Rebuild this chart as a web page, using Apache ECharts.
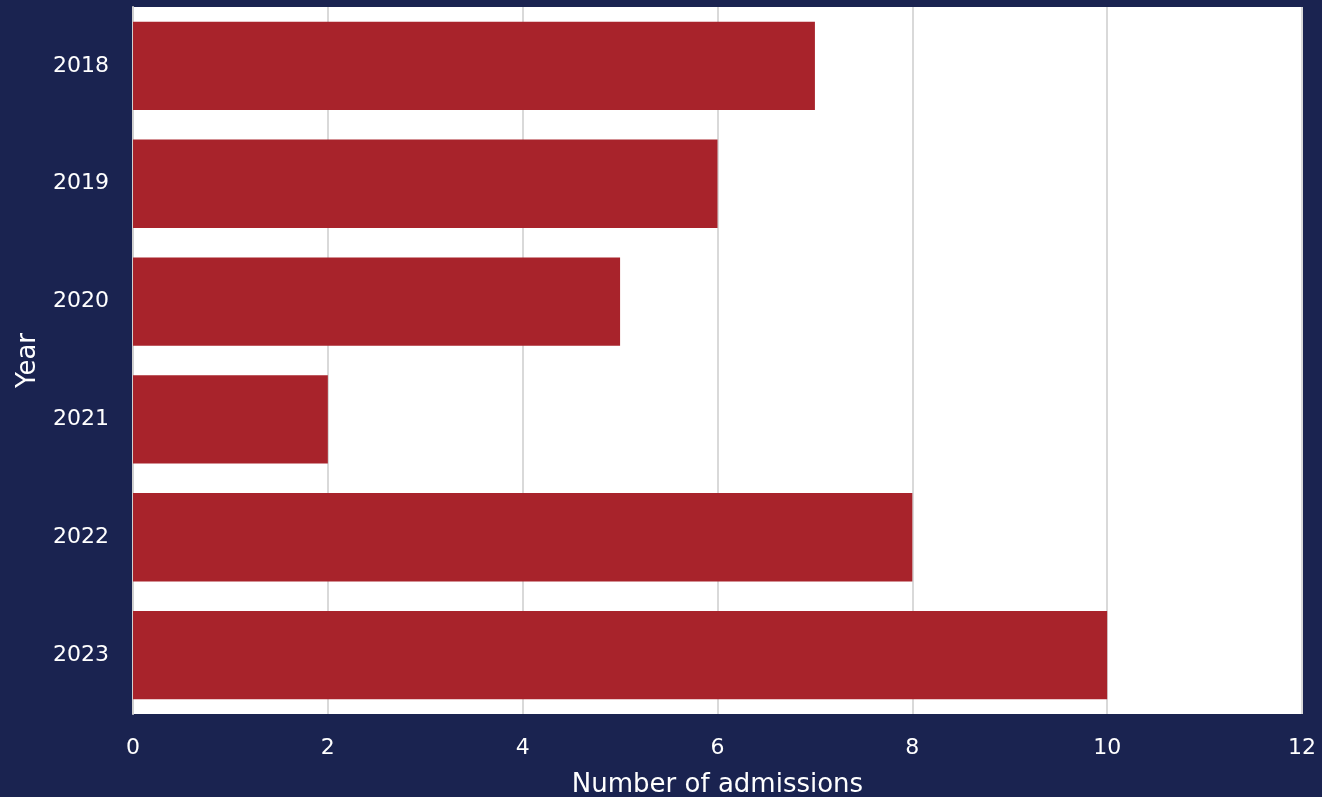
<!DOCTYPE html>
<html><head><meta charset="utf-8">
<script src="https://cdn.jsdelivr.net/npm/echarts@6/dist/echarts.min.js"></script>
<style>html,body{margin:0;padding:0;background:#1a2350;}#c{width:1322px;height:797px;}</style>
</head><body><div id="c"></div>
<script>
const years = ['2018','2019','2020','2021','2022','2023'];
const admissions = [7,6,5,2,8,10];
const xTicks = [0,2,4,6,8,10,12];
const chart = echarts.init(document.getElementById('c'));
const font = 'DejaVu Sans, Verdana, sans-serif';
chart.setOption({
  backgroundColor:'#1a2350',
  animation:false,
  grid:{left:133,right:20,top:7,bottom:83,backgroundColor:'#ffffff',show:true,borderWidth:0,
    containLabel:false,outerBoundsMode:'none'},
  xAxis:{type:'value',min:xTicks[0],max:xTicks[xTicks.length-1],interval:2,
    name:'Number of admissions',nameLocation:'middle',nameGap:58,
    nameTextStyle:{color:'#ffffff',fontSize:26,fontFamily:font},
    axisLabel:{color:'#ffffff',fontSize:22,fontFamily:font,margin:23},
    axisLine:{show:false},axisTick:{show:false},
    splitLine:{show:true,lineStyle:{color:'#d9d9d9',width:2}}},
  yAxis:{type:'category',data:years,inverse:true,
    name:'Year',nameLocation:'middle',nameGap:92,nameRotate:90,
    nameTextStyle:{color:'#ffffff',fontSize:26,fontFamily:font},
    axisLabel:{color:'#ffffff',fontSize:22,fontFamily:font,margin:24},
    axisLine:{show:true,lineStyle:{color:'#d0d0d0',width:2}},axisTick:{show:false}},
  series:[{type:'bar',data:admissions,barCategoryGap:'25%',itemStyle:{color:'#a8232b'}}]
});
</script></body></html>
